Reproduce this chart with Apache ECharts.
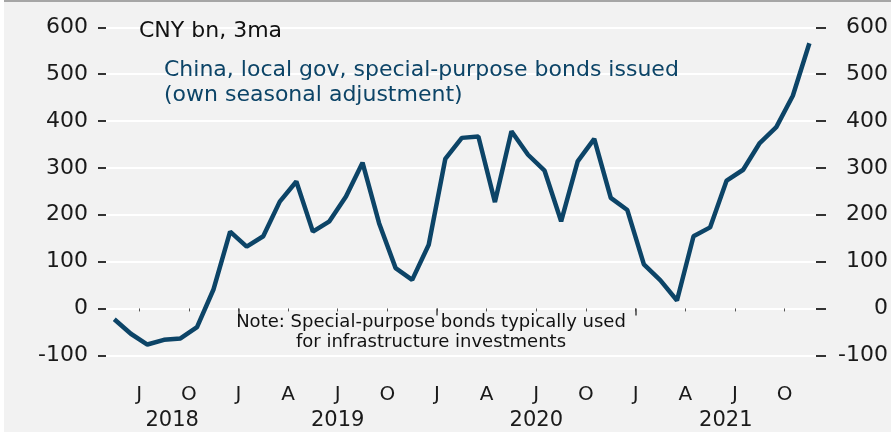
<!DOCTYPE html>
<html>
<head>
<meta charset="utf-8">
<script src="https://cdn.jsdelivr.net/npm/echarts@6/dist/echarts.min.js"></script>
<style>
  html, body { margin: 0; padding: 0; background: #fff; }
  #chart-container { width: 891px; height: 432px; }
</style>
</head>
<body>
<div id="chart-container"></div>
<script>
// months counted from Jan 2018 = 0; data runs May 2018 .. Nov 2021
var firstMonth = 4;
var values = [
    -23, -54, -77, -67, -64, -40, 41, 164,
    132, 154, 228, 271, 164, 186, 239, 311, 182, 86, 61, 136,
    319, 364, 367, 227, 378, 328, 294, 186, 314, 362, 236, 210,
    94, 60, 17, 154, 173, 273, 296, 353, 387, 454, 566
];
var quarterTicks = [6, 9, 12, 15, 18, 21, 24, 27, 30, 33, 36, 39, 42, 45];
var quarterLabels = ['J', 'O', 'J', 'A', 'J', 'O', 'J', 'A', 'J', 'O', 'J', 'A', 'J', 'O'];
var yearTicks = [12, 24, 36];
var yearLabels = ['2018', '2019', '2020', '2021'];
var yearLabelPos = [8, 18, 30, 41.45];

var font = 'DejaVu Sans';
var lineColor = '#0c4467';

var seriesData = values.map(function (v, i) {
    return [firstMonth + i + 0.5, v];
});

var dom = document.getElementById('chart-container');
var myChart = echarts.init(dom, null, { renderer: 'canvas' });

var option = {
    animation: false,
    backgroundColor: '#f2f2f2',
    grid: {
        left: 106,
        right: 75,
        top: 27.3,
        bottom: 76.7
    },
    xAxis: [
        {
            type: 'value',
            min: 4,
            max: 46.9,
            offset: 15,
            axisLine: { show: false },
            splitLine: { show: false },
            axisTick: {
                show: true,
                customValues: quarterTicks,
                length: 3,
                lineStyle: { color: '#555', width: 1 }
            },
            axisLabel: {
                customValues: quarterTicks,
                margin: 14,
                fontFamily: font,
                fontSize: 20,
                color: '#1a1a1a',
                formatter: function (v) {
                    return quarterLabels[quarterTicks.indexOf(v)] || '';
                }
            }
        },
        {
            type: 'value',
            min: 4,
            max: 46.9,
            offset: 15,
            position: 'bottom',
            axisLine: { show: false },
            splitLine: { show: false },
            axisTick: {
                show: true,
                customValues: yearTicks,
                length: 7,
                lineStyle: { color: '#444', width: 1.5 }
            },
            axisLabel: {
                customValues: yearLabelPos,
                margin: 40,
                fontFamily: font,
                fontSize: 21,
                color: '#1a1a1a',
                formatter: function (v) {
                    return yearLabels[yearLabelPos.indexOf(v)] || '';
                }
            }
        }
    ],
    yAxis: [
        {
            type: 'value',
            min: -100,
            max: 600,
            interval: 100,
            position: 'left',
            axisLine: { show: false },
            axisTick: {
                show: true,
                length: 8,
                lineStyle: { color: '#333', width: 2 }
            },
            splitLine: { lineStyle: { color: '#ffffff', width: 2 } },
            axisLabel: {
                margin: 18,
                fontFamily: font,
                fontSize: 22,
                color: '#1a1a1a'
            }
        },
        {
            type: 'value',
            min: -100,
            max: 600,
            interval: 100,
            position: 'right',
            axisLine: { show: false },
            axisTick: {
                show: true,
                length: 10,
                lineStyle: { color: '#333', width: 2 }
            },
            splitLine: { show: false },
            axisLabel: {
                margin: 72,
                align: 'right',
                fontFamily: font,
                fontSize: 22,
                color: '#1a1a1a'
            }
        }
    ],
    graphic: [
        { type: 'rect', z: 100, shape: { x: 0, y: 0, width: 4, height: 432 }, style: { fill: '#ffffff' } },
        { type: 'line', z: 100, shape: { x1: 4, y1: 1, x2: 891, y2: 1 }, style: { stroke: '#8c8c8c', lineWidth: 1.5 } },
        {
            type: 'text', z: 100, x: 139, y: 31,
            style: { text: 'CNY bn, 3ma', font: '22px "DejaVu Sans"', fill: '#111', verticalAlign: 'middle' }
        },
        {
            type: 'text', z: 100, x: 164, y: 58,
            style: {
                text: 'China, local gov, special-purpose bonds issued\n(own seasonal adjustment)',
                font: '22px "DejaVu Sans"', fill: lineColor, lineHeight: 25
            }
        },
        {
            type: 'text', z: 100, x: 431, y: 312,
            style: {
                text: 'Note: Special-purpose bonds typically used\nfor infrastructure investments',
                font: '18px "DejaVu Sans"', fill: '#111', align: 'center', lineHeight: 20
            }
        }
    ],
    series: [
        {
            type: 'line',
            xAxisIndex: 0,
            yAxisIndex: 0,
            data: seriesData,
            showSymbol: false,
            lineStyle: { color: lineColor, width: 4.5 },
            itemStyle: { color: lineColor }
        }
    ]
};

myChart.setOption(option);
</script>
</body>
</html>
